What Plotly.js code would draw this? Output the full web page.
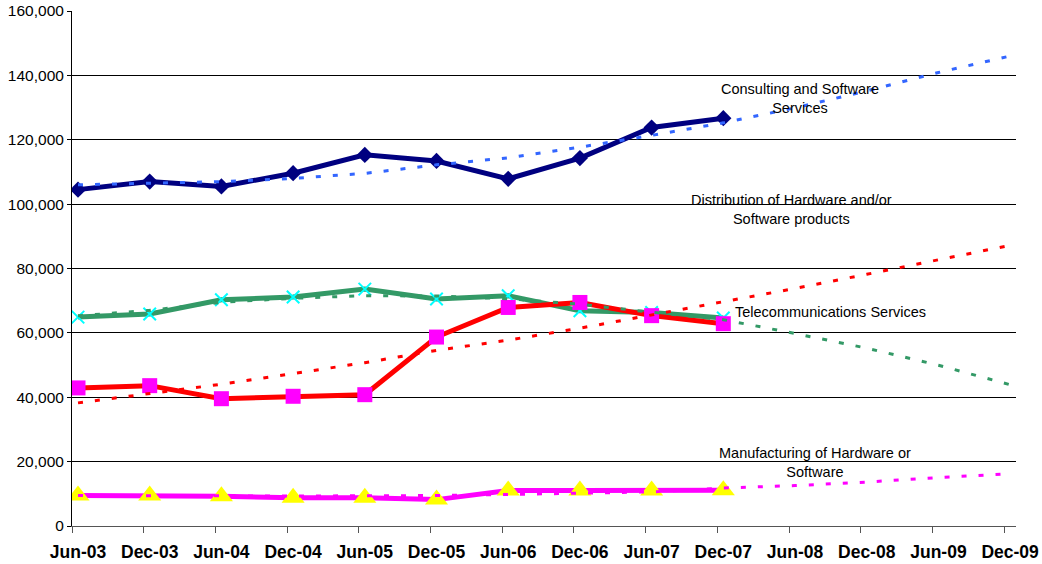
<!DOCTYPE html>
<html>
<head>
<meta charset="utf-8">
<script src="https://cdn.plot.ly/plotly-3.0.1.min.js"></script>
<style>
  html, body { margin: 0; padding: 0; background: #fff; }
  #chart { width: 1042px; height: 564px; }
</style>
</head>
<body>
<div id="chart"></div>
<script>
const categories = ['Jun-03','Dec-03','Jun-04','Dec-04','Jun-05','Dec-05','Jun-06','Dec-06','Jun-07','Dec-07','Jun-08','Dec-08','Jun-09','Dec-09'];

const consulting = [104500,107000,105500,109600,115300,113400,107850,114300,123800,126700];
const consultingTrend = [106000,106450,107000,108000,109550,112200,114400,117700,121350,125250,129900,135150,140900,146000];

const telecom = [64900,65850,70300,71150,73600,70500,71550,66900,66350,64600];
const telecomTrend = [65300,67000,69500,70750,71550,71450,70600,68900,66400,64100,59800,55250,49950,43900];

const distribution = [42900,43600,39550,40300,40800,58700,67900,69450,65350,62850];
const distributionTrend = [38250,41100,44050,47350,50750,54550,57750,61450,65500,69700,73800,78200,82700,87200];

const manufacturing = [9450,9450,9250,8750,8750,8200,11000,11000,11000,11100];
const manufacturingTrend = [9500,9400,9300,9300,9400,9450,9800,10300,10600,11800,12550,13650,15050,16200];

const labels = {
  consulting: 'Consulting and Software<br>Services',
  distribution: 'Distribution of Hardware and/or<br>Software products',
  telecom: 'Telecommunications Services',
  manufacturing: 'Manufacturing of Hardware or<br>Software'
};

const idx = (arr) => arr.map((_, i) => i);
const FONT = 'Liberation Sans, Arial, sans-serif';
const trendDash = '5px,12px';

const traces = [
  { x: idx(consulting), y: consulting, mode: 'lines+markers',
    line: {color: '#000080', width: 5},
    marker: {symbol: 'diamond', size: 12.5, color: '#000080'} },
  { x: idx(telecom), y: telecom, mode: 'lines+markers',
    line: {color: '#339966', width: 5},
    marker: {symbol: 'x-thin', size: 12.5, color: '#00FFFF', line: {color: '#00FFFF', width: 2}} },
  { x: idx(distribution), y: distribution, mode: 'lines+markers',
    line: {color: '#FF0000', width: 5},
    marker: {symbol: 'square', size: 15, color: '#FF00FF'} },
  { x: idx(manufacturing), y: manufacturing, mode: 'lines+markers',
    line: {color: '#FF00FF', width: 5},
    marker: {symbol: 'triangle-up', size: 20, color: '#FFFF00'} },
  { x: idx(consultingTrend), y: consultingTrend, mode: 'lines',
    line: {color: '#3366FF', width: 3, dash: trendDash} },
  { x: idx(telecomTrend), y: telecomTrend, mode: 'lines',
    line: {color: '#339966', width: 3, dash: trendDash} },
  { x: idx(distributionTrend), y: distributionTrend, mode: 'lines',
    line: {color: '#FF0000', width: 3, dash: trendDash} },
  { x: idx(manufacturingTrend), y: manufacturingTrend, mode: 'lines',
    line: {color: '#FF00FF', width: 3, dash: trendDash} }
];

const annFont = {family: FONT, size: 14.5, color: '#000'};
const layout = {
  width: 1042, height: 564,
  margin: {l: 72, r: 26, t: 11, b: 38},
  paper_bgcolor: '#fff', plot_bgcolor: '#fff',
  showlegend: false,
  font: {family: FONT, color: '#000'},
  xaxis: {
    range: [-0.0837, 13.082],
    tickmode: 'array',
    tickvals: idx(categories),
    ticktext: categories,
    ticks: '',
    ticklabelstandoff: 10,
    tickfont: {family: FONT, size: 17.5, weight: 'bold', color: '#000'},
    showgrid: false, zeroline: false,
    showline: true, linecolor: '#555', linewidth: 1,
    minor: {tickmode: 'linear', tick0: -0.0837, dtick: 1, ticks: 'outside', ticklen: 6, tickcolor: '#555', tickwidth: 1, showgrid: false},
    fixedrange: true
  },
  yaxis: {
    range: [0, 160000],
    tickmode: 'linear', tick0: 0, dtick: 20000,
    tickformat: ',d',
    ticks: 'outside', ticklen: 4, tickcolor: '#000',
    tickfont: {family: FONT, size: 15.5, color: '#000'},
    showgrid: true, gridcolor: '#000', gridwidth: 1,
    zeroline: false,
    showline: true, linecolor: '#000', linewidth: 1,
    fixedrange: true
  },
  annotations: [
    {xref: 'paper', yref: 'paper', x: 0.7707, y: 0.830, xanchor: 'center', yanchor: 'middle', align: 'center', showarrow: false, text: labels.consulting, font: annFont},
    {xref: 'paper', yref: 'paper', x: 0.7627, y: 0.615, xanchor: 'center', yanchor: 'middle', align: 'center', showarrow: false, text: labels.distribution, font: annFont},
    {xref: 'paper', yref: 'paper', x: 0.700, y: 0.416, xanchor: 'left', yanchor: 'middle', align: 'left', showarrow: false, text: labels.telecom, font: annFont},
    {xref: 'paper', yref: 'paper', x: 0.787, y: 0.124, xanchor: 'center', yanchor: 'middle', align: 'center', showarrow: false, text: labels.manufacturing, font: annFont}
  ]
};

Plotly.newPlot('chart', traces, layout, {displayModeBar: false, staticPlot: true});
</script>
</body>
</html>
